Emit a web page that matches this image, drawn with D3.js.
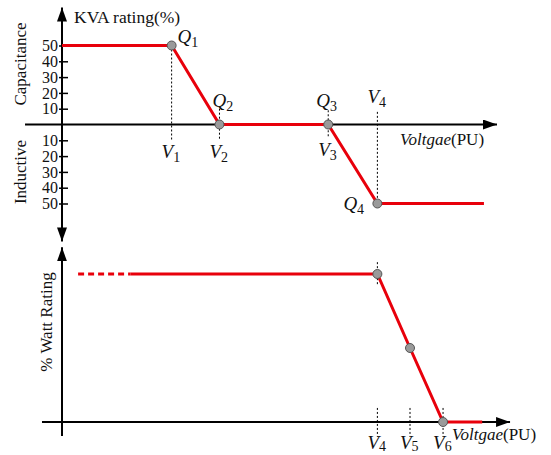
<!DOCTYPE html>
<html>
<head>
<meta charset="utf-8">
<script src="https://cdn.jsdelivr.net/npm/d3@7"></script>
<style>
  body { margin: 0; background: #fff; }
  text { font-family: "Times New Roman", "Liberation Serif", serif; fill: #111; }
</style>
</head>
<body>
<div class="chart"></div>
<script>
// voltage positions (arbitrary units along the voltage axis)
var voltNames = ["1", "2", "3", "4", "5", "6"];
var voltValues = [25.2, 36.2, 61.2, 72.5, 80, 87.6];

// reactive power curve (KVA rating %, capacitance positive)
var qVolt = [0, 25.2, 36.2, 61.2, 72.5, 97];
var qRating = [50, 50, 0, 0, -50, -50];
var qPointIdx = [1, 2, 3, 4];
var qPointNames = ["1", "2", "3", "4"];
var kvaTicks = [50, 40, 30, 20, 10, -10, -20, -30, -40, -50];

// active power curve (% watt rating)
var wVolt = [15.8, 72.5, 80, 87.6, 96.6];
var wRating = [100, 100, 50, 0, 0];
var wDashVolt = [3.7, 15.8];
var wDashRating = [100, 100];
var wPointIdx = [1, 2, 3];

// axis extents
var topXExtent = [-8.5, 100];
var topYExtent = [-74, 74];
var botXExtent = [-4.6, 103];
var botYExtent = [-9.5, 118];

// dotted guides: [volt, from, to]
var topGuides = [[25.2, 50, -10], [36.2, 10, -10], [61.2, 9, -8], [72.5, 8, -50]];
var botGuides = [[72.5, 108, 93], [72.5, 9.5, -10], [80, 9.5, -10], [87.6, 9.5, -10]];

var svgWidth = 551, svgHeight = 455;

var svg = d3.select(".chart").append("svg")
  .attr("width", svgWidth)
  .attr("height", svgHeight);

// arrow head
svg.append("defs").append("marker")
  .attr("id", "arrow")
  .attr("viewBox", "0 0 14 10")
  .attr("refX", 14).attr("refY", 5)
  .attr("markerWidth", 14).attr("markerHeight", 10)
  .attr("markerUnits", "userSpaceOnUse")
  .attr("orient", "auto-start-reverse")
  .append("path")
  .attr("d", "M0,0L14,5L0,10Z")
  .attr("fill", "#000");

var x = d3.scaleLinear().domain([0, 100]).range([62, 497]);
var yTop = d3.scaleLinear().domain([-50, 50]).range([203.5, 45.5]);
var yBot = d3.scaleLinear().domain([0, 100]).range([422, 274]);

var g = svg.append("g");

function axisLine(x1, y1, x2, y2, start, end) {
  var l = g.append("line")
    .attr("x1", x1).attr("y1", y1).attr("x2", x2).attr("y2", y2)
    .attr("stroke", "#000").attr("stroke-width", 2);
  if (start) l.attr("marker-start", "url(#arrow)");
  if (end) l.attr("marker-end", "url(#arrow)");
}

// top axes
axisLine(x(topXExtent[0]), yTop(0), x(topXExtent[1]), yTop(0), false, true);
axisLine(x(0), yTop(topYExtent[0]), x(0), yTop(topYExtent[1]), true, true);
// bottom axes
axisLine(x(botXExtent[0]), yBot(0), x(botXExtent[1]), yBot(0), false, true);
axisLine(x(0), yBot(botYExtent[0]), x(0), yBot(botYExtent[1]), false, true);

// y ticks on top chart
var yAxis = d3.axisLeft(yTop)
  .tickValues(kvaTicks)
  .tickSize(-6)
  .tickPadding(5)
  .tickFormat(function(d) { return Math.abs(d); });

var ya = g.append("g")
  .attr("transform", "translate(" + x(0) + ",0)")
  .call(yAxis);
ya.select(".domain").remove();
ya.selectAll("line").attr("x1", -3).attr("stroke", "#000").attr("stroke-width", 1.5);
ya.selectAll("text")
  .attr("x", -4)
  .style("font-family", "'Times New Roman', 'Liberation Serif', serif")
  .style("font-size", "16px")
  .attr("fill", "#111");

// dotted guides
g.selectAll(".tguide").data(topGuides).enter().append("line")
  .attr("x1", d => x(d[0])).attr("x2", d => x(d[0]))
  .attr("y1", d => yTop(d[1])).attr("y2", d => yTop(d[2]))
  .attr("stroke", "#000").attr("stroke-width", 1)
  .attr("stroke-dasharray", "2,2");

g.selectAll(".bguide").data(botGuides).enter().append("line")
  .attr("x1", d => x(d[0])).attr("x2", d => x(d[0]))
  .attr("y1", d => yBot(d[1])).attr("y2", d => yBot(d[2]))
  .attr("stroke", "#000").attr("stroke-width", 1)
  .attr("stroke-dasharray", "2,2");

// curves
var topLine = d3.line().x(d => x(d[0])).y(d => yTop(d[1]));
var botLine = d3.line().x(d => x(d[0])).y(d => yBot(d[1]));

var qData = qVolt.map((v, i) => [v, qRating[i]]);
var wData = wVolt.map((v, i) => [v, wRating[i]]);
var wDash = wDashVolt.map((v, i) => [v, wDashRating[i]]);

g.append("path").datum(qData).attr("d", topLine)
  .attr("fill", "none").attr("stroke", "#e8000b").attr("stroke-width", 3);
g.append("path").datum(wData).attr("d", botLine)
  .attr("fill", "none").attr("stroke", "#e8000b").attr("stroke-width", 3);
g.append("path").datum(wDash).attr("d", botLine)
  .attr("fill", "none").attr("stroke", "#e8000b").attr("stroke-width", 3)
  .attr("stroke-dasharray", "6,4");

// points
g.selectAll(".qpt").data(qPointIdx).enter().append("circle")
  .attr("cx", i => x(qData[i][0])).attr("cy", i => yTop(qData[i][1]))
  .attr("r", 4.5).attr("fill", "#9a9a9a").attr("stroke", "#555").attr("stroke-width", 1);
g.selectAll(".wpt").data(wPointIdx).enter().append("circle")
  .attr("cx", i => x(wData[i][0])).attr("cy", i => yBot(wData[i][1]))
  .attr("r", 4.5).attr("fill", "#9a9a9a").attr("stroke", "#555").attr("stroke-width", 1);

// labels with subscript
function subLabel(px, py, main, sub, shift) {
  var t = g.append("text").attr("x", px).attr("y", py).style("font-size", "19px");
  t.append("tspan").style("font-style", "italic").text(main);
  t.append("tspan").attr("dy", shift == null ? 4 : shift).style("font-size", "14px").text(sub);
}

var qOffsets = [[6, -3], [-7, -18], [-12, -18], [-34, 6]];
qPointIdx.forEach(function(i, k) {
  subLabel(x(qData[i][0]) + qOffsets[k][0], yTop(qData[i][1]) + qOffsets[k][1], "Q", qPointNames[k]);
});

// V labels top: V1, V2, V3 below axis, V4 above
subLabel(x(voltValues[0]) - 10, 158, "V", voltNames[0]);
subLabel(x(voltValues[1]) - 10, 158, "V", voltNames[1]);
subLabel(x(voltValues[2]) - 10, 156, "V", voltNames[2]);
subLabel(x(voltValues[3]) - 10, 103, "V", voltNames[3]);
// V labels bottom
[3, 4, 5].forEach(function(i) {
  subLabel(x(voltValues[i]) - 10, 449, "V", voltNames[i], 2);
});

function voltTitle(px, py) {
  var t = g.append("text").attr("x", px).attr("y", py).style("font-size", "17px");
  t.append("tspan").style("font-style", "italic").text("Voltgae");
  t.append("tspan").text("(PU)");
}
voltTitle(400, 145);
voltTitle(452, 440);

g.append("text").attr("x", 74).attr("y", 23).style("font-size", "17.5px").text("KVA rating(%)");

g.append("text").attr("transform", "translate(26,64) rotate(-90)")
  .attr("text-anchor", "middle").style("font-size", "17px").text("Capacitance");
g.append("text").attr("transform", "translate(26,172) rotate(-90)")
  .attr("text-anchor", "middle").style("font-size", "17px").text("Inductive");
g.append("text").attr("transform", "translate(52,322) rotate(-90)")
  .attr("text-anchor", "middle").style("font-size", "17px").text("% Watt Rating");
</script>
</body>
</html>
